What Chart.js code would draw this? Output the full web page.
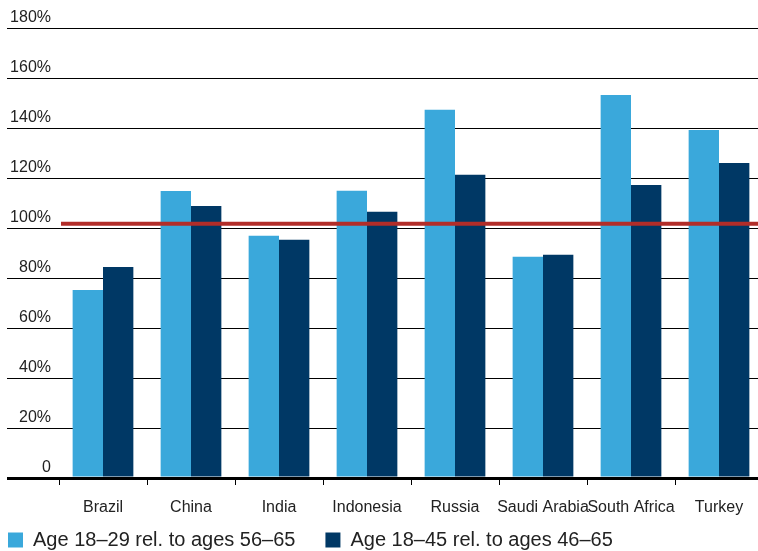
<!DOCTYPE html>
<html>
<head>
<meta charset="utf-8">
<script src="https://cdn.jsdelivr.net/npm/chart.js@4.4.1/dist/chart.umd.min.js"></script>
<style>
  html, body { margin: 0; padding: 0; overflow: hidden; background: #fff; }
  #wrap { position: absolute; left: -22px; top: 0; }
</style>
</head>
<body>
<div id="wrap"><canvas id="myChart" width="785" height="560"></canvas></div>
<script>
const countries = ["Brazil", "China", "India", "Indonesia", "Russia", "Saudi Arabia", "South Africa", "Turkey"];
const young = [75.2, 114.8, 96.9, 114.9, 147.3, 88.5, 153.2, 139.2];
const broad = [84.4, 108.8, 95.3, 106.5, 121.3, 89.3, 117.2, 126.0];
const seriesNames = ["Age 18\u201329 rel. to ages 56\u201365", "Age 18\u201345 rel. to ages 46\u201365"];
const referenceLevel = 101.7;
const yMax = 180;
const yStep = 20;

// red 100% line across the whole plot
const refLine = {
    id: "refLine",
    afterDatasetsDraw(chart) {
        const {ctx, chartArea, scales} = chart;
        const y = scales.y.getPixelForValue(referenceLevel);
        ctx.save();
        ctx.strokeStyle = "#b22d29";
        ctx.lineWidth = 4;
        ctx.beginPath();
        ctx.moveTo(chartArea.left + 2, y);
        ctx.lineTo(chart.width, y);
        ctx.stroke();
        ctx.restore();
    }
};

Chart.defaults.font.family = "'Liberation Sans', Arial, sans-serif";
Chart.defaults.color = "#222";

new Chart(document.getElementById("myChart").getContext("2d"), {
    type: "bar",
    data: {
        labels: countries,
        datasets: [
            {
                label: seriesNames[0],
                data: young,
                backgroundColor: "#3aa8db",
                borderWidth: 0
            },
            {
                label: seriesNames[1],
                data: broad,
                backgroundColor: "#003865",
                borderWidth: 0
            }
        ]
    },
    options: {
        responsive: false,
        animation: false,
        categoryPercentage: 0.69,
        barPercentage: 1.0,
        layout: { padding: { top: 28, left: 0, right: 0, bottom: 0 } },
        plugins: {
            tooltip: { enabled: false },
            legend: {
                position: "bottom",
                align: "start",
                labels: {
                    boxWidth: 15,
                    boxHeight: 15,
                    padding: 30,
                    color: "#222",
                    font: { size: 20 }
                }
            }
        },
        scales: {
            x: {
                border: { display: false },
                grid: {
                    drawOnChartArea: false,
                    drawTicks: true,
                    tickLength: 7,
                    color: "#000",
                    lineWidth: 1
                },
                ticks: {
                    autoSkip: false,
                    maxRotation: 0,
                    minRotation: 0,
                    mirror: true,
                    padding: -39,
                    font: { size: 16 }
                },
                afterFit(scale) { scale.height = 22; }
            },
            y: {
                min: 0,
                max: yMax,
                border: { display: false },
                grid: {
                    color: "#000",
                    tickColor: "#000",
                    lineWidth: (c) => (c.tick && c.tick.value === 0 ? 3 : 1),
                    drawTicks: true,
                    tickLength: 52
                },
                ticks: {
                    stepSize: yStep,
                    padding: -44,
                    labelOffset: -10,
                    font: { size: 16 },
                    callback: (v) => (v === 0 ? "0" : v + "%")
                },
                afterFit(scale) { scale.width = 81; }
            }
        }
    },
    plugins: [refLine]
});
</script>
</body>
</html>
